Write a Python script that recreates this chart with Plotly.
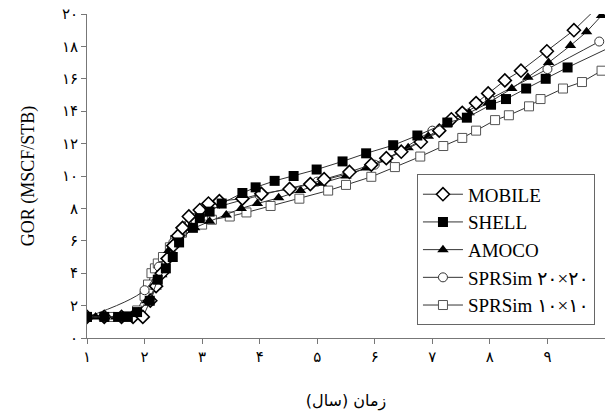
import plotly.graph_objects as go

# ---- data ----
mobile_x = [1.0, 1.3, 1.6, 1.8, 1.97, 2.1, 2.2, 2.3, 2.4, 2.5, 2.58, 2.66, 2.77, 2.96, 3.11, 3.3,
            3.7, 4.03, 4.52, 4.88, 5.12, 5.56, 5.94, 6.2, 6.46, 6.8, 7.12, 7.33, 7.52, 7.76, 7.97,
            8.26, 8.54, 8.99, 9.46, 10.1]
mobile_y = [1.3, 1.3, 1.3, 1.3, 1.3, 2.3, 3.2, 4.0, 4.9, 5.7, 6.3, 6.8, 7.5, 7.9, 8.3, 8.45,
            8.6, 8.9, 9.2, 9.5, 9.8, 10.25, 10.7, 11.1, 11.5, 12.1, 12.8, 13.5, 13.9, 14.5, 15.1,
            15.9, 16.5, 17.7, 19.0, 21.2]

shell_x = [1.0, 1.3, 1.54, 1.71, 1.87, 2.09, 2.23, 2.37, 2.49, 2.6, 2.84, 2.96, 3.13, 3.34,
           3.7, 3.93, 4.26, 4.59, 4.99, 5.44, 5.85, 6.32, 6.74, 7.26, 7.6, 8.02, 8.28, 8.63,
           8.97, 9.35, 10.3]
shell_y = [1.3, 1.3, 1.3, 1.3, 1.6, 2.3, 3.6, 4.3, 5.0, 5.9, 6.8, 7.4, 7.8, 8.3,
           8.95, 9.3, 9.7, 10.0, 10.4, 10.9, 11.4, 11.9, 12.5, 13.3, 13.6, 14.4, 14.75, 15.4,
           16.0, 16.7, 18.3]

amoco_x = [1.0, 1.15, 1.3, 1.5, 1.9, 2.04, 2.2, 2.3, 2.42, 2.56, 2.87, 3.13, 3.42, 3.68, 3.96,
           4.33, 4.71, 5.07, 5.5, 5.85, 6.2, 6.58, 6.93, 7.26, 7.64, 7.97, 8.38, 8.66, 9.02,
           9.4, 9.68, 9.94]
amoco_y = [1.3, 1.3, 1.25, 1.3, 1.6, 2.3, 3.15, 3.9, 5.4, 6.05, 6.8, 7.2, 7.6, 8.0, 8.3,
           8.65, 9.1, 9.55, 10.0, 10.5, 11.0, 11.75, 12.45, 13.2, 13.9, 14.5, 15.4, 16.1, 17.0,
           18.05, 18.9, 19.9]

sim20_x = [1.0, 2.0, 2.25, 2.5, 2.75, 3.0, 4.0, 5.0, 6.0, 7.0, 8.0, 9.0, 9.9]
sim20_y = [1.3, 2.95, 4.4, 5.9, 7.0, 7.7, 8.8, 9.65, 10.7, 12.8, 14.75, 16.6, 18.3]

sim10_x = [1.0, 1.4, 1.7, 1.87, 2.0, 2.06, 2.12, 2.18, 2.23, 2.32, 2.44, 2.53, 2.65, 3.0, 3.17,
           3.48, 3.77, 4.19, 4.69, 5.19, 5.5, 5.94, 6.35, 6.79, 7.19, 7.52, 7.76, 8.09, 8.33,
           8.68, 8.88, 9.27, 9.6, 9.94]
sim10_y = [1.3, 1.3, 1.35, 1.7, 2.6, 3.3, 4.0, 4.3, 4.6, 5.0, 5.6, 6.05, 6.5, 7.0, 7.3,
           7.5, 7.75, 8.15, 8.6, 9.1, 9.45, 9.95, 10.55, 11.2, 11.85, 12.35, 12.8, 13.45, 13.75,
           14.3, 14.75, 15.4, 15.8, 16.5]

x_ticks = [1, 2, 3, 4, 5, 6, 7, 8, 9, 10]
x_ticktext = ['۱', '۲', '۳', '۴', '۵', '۶', '۷', '۸', '۹', '۱۰']
y_ticks = [0, 2, 4, 6, 8, 10, 12, 14, 16, 18, 20]
y_ticktext = ['۰', '۲', '۴', '۶', '۸', '۱۰', '۱۲', '۱۴', '۱۶', '۱۸', '۲۰']

LINE = '#333333'

fig = go.Figure()
fig.add_trace(go.Scatter(
    x=sim10_x, y=sim10_y, name='SPRSim ۱۰×۱۰', mode='lines+markers',
    line=dict(color=LINE, width=1),
    marker=dict(symbol='square', size=9, color='white', line=dict(color='#555555', width=1)),
    legendrank=5))
fig.add_trace(go.Scatter(
    x=sim20_x, y=sim20_y, name='SPRSim ۲۰×۲۰', mode='lines+markers',
    line=dict(color=LINE, width=1, shape='spline'),
    marker=dict(symbol='circle', size=9, color='white', line=dict(color='#333333', width=1)),
    legendrank=4))
fig.add_trace(go.Scatter(
    x=amoco_x, y=amoco_y, name='AMOCO', mode='lines+markers',
    line=dict(color=LINE, width=1),
    marker=dict(symbol='triangle-up', size=10, color='black'),
    legendrank=3))
fig.add_trace(go.Scatter(
    x=mobile_x, y=mobile_y, name='MOBILE', mode='lines+markers',
    line=dict(color=LINE, width=1),
    marker=dict(symbol='diamond', size=10, color='white', line=dict(color='black', width=1.6)),
    legendrank=1))
fig.add_trace(go.Scatter(
    x=shell_x, y=shell_y, name='SHELL', mode='lines+markers',
    line=dict(color=LINE, width=1),
    marker=dict(symbol='square', size=10, color='black'),
    legendrank=2))

fig.update_layout(
    width=605, height=411,
    margin=dict(l=87, r=0, t=14, b=73),
    plot_bgcolor='white', paper_bgcolor='white',
    showlegend=True,
    legend=dict(x=0.637, y=0.505, xanchor='left', yanchor='top',
                bgcolor='white', bordercolor='#666666', borderwidth=1,
                font=dict(family='Liberation Serif, DejaVu Sans', size=19, color='black'),
                tracegroupgap=0, itemwidth=40),
    xaxis=dict(range=[1, 10], tickvals=x_ticks, ticktext=x_ticktext,
               showgrid=False, zeroline=False, showline=True, linecolor='#777777', linewidth=1,
               ticks='outside', ticklen=5, tickcolor='#777777',
               tickfont=dict(family='DejaVu Sans', size=15, color='black'),
               title=dict(text='زمان (سال)', font=dict(family='DejaVu Sans', size=16, color='black'),
                          standoff=30)),
    yaxis=dict(range=[0, 20], tickvals=y_ticks, ticktext=y_ticktext,
               showgrid=False, zeroline=False, showline=True, linecolor='#777777', linewidth=1,
               ticks='outside', ticklen=5, tickcolor='#777777',
               tickfont=dict(family='DejaVu Sans', size=15, color='black'),
               title=dict(text='GOR (MSCF/STB)', font=dict(family='Liberation Serif', size=18, color='black'),
                          standoff=22)),
)

fig.write_html('out.html', config={'displayModeBar': False},
               post_script="document.body.style.margin='0';")
